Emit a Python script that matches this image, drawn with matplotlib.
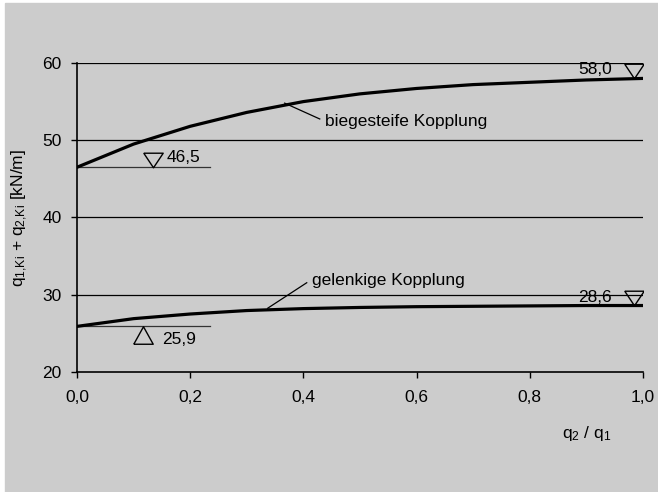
import matplotlib
matplotlib.use("Agg")
import matplotlib.pyplot as plt
import matplotlib.transforms as mtransforms
from matplotlib.patches import Rectangle

plt.rcParams['font.family'] = ['Liberation Sans', 'DejaVu Sans']
plt.rcParams['mathtext.fontset'] = 'custom'
plt.rcParams['mathtext.rm'] = 'Liberation Sans'
plt.rcParams['mathtext.it'] = 'Liberation Sans'

# values
ratio = [0.0, 0.1, 0.2, 0.3, 0.4, 0.5, 0.6, 0.7, 0.8, 0.9, 1.0]
rigid = [46.5, 49.5, 51.8, 53.6, 55.0, 56.0, 56.7, 57.2, 57.5, 57.8, 58.0]
hinged = [25.9, 26.9, 27.5, 27.95, 28.2, 28.35, 28.45, 28.5, 28.55, 28.6, 28.6]
xticks = [0.0, 0.2, 0.4, 0.6, 0.8, 1.0]
xticklabels = ["0,0", "0,2", "0,4", "0,6", "0,8", "1,0"]
yticks = [20, 30, 40, 50, 60]
rigid_start, rigid_end = 46.5, 58.0
hinged_start, hinged_end = 25.9, 28.6

fig = plt.figure(figsize=(6.58, 4.92), dpi=100, facecolor='white')
fig.patches.append(Rectangle((5 / 658, 0), 1, (492 - 3) / 492,
                             transform=fig.transFigure, color='#cccccc', zorder=-1))
ax = fig.add_axes([0.117, 0.244, 0.860, 0.628])
ax.set_facecolor('#cccccc')

for y in yticks[1:]:
    ax.axhline(y, color='black', lw=0.9, zorder=1)

ax.plot(ratio, rigid, color='black', lw=2.3, zorder=3)
ax.plot(ratio, hinged, color='black', lw=2.3, zorder=3)

# reference lines at start values
ax.plot([0, 0.235], [rigid_start, rigid_start], color='#333333', lw=0.9)
ax.plot([0, 0.235], [hinged_start, hinged_start], color='#333333', lw=0.9)

# flat open triangles, apex on the value
ms = 14
tri_down = [(-1, 0.75), (1, 0.75), (0, -0.75), (-1, 0.75)]
tri_up = [(-1, -0.9), (1, -0.9), (0, 0.9), (-1, -0.9)]
up = mtransforms.offset_copy(ax.transData, fig=fig, x=0, y=0.375 * ms, units='points')
down = mtransforms.offset_copy(ax.transData, fig=fig, x=0, y=-0.45 * ms, units='points')
tri = dict(ms=ms, mfc='none', mec='black', mew=1.0, ls='none', zorder=4)
ax.plot([0.134], [rigid_start], marker=tri_down, transform=up, **tri)
ax.plot([0.117], [hinged_start], marker=tri_up, transform=down, **tri)
ax.plot([0.984], [rigid_end], marker=tri_down, transform=up, **tri)
ax.plot([0.984], [hinged_end], marker=tri_down, transform=up, **tri)

fs = 12.5
ax.text(0.159, 47.2, "46,5", fontsize=fs, va='baseline', ha='left')
ax.text(0.150, 23.65, "25,9", fontsize=fs, va='baseline', ha='left')
ax.text(0.945, 58.6, "58,0", fontsize=fs, va='baseline', ha='right')
ax.text(0.945, 29.05, "28,6", fontsize=fs, va='baseline', ha='right')

# leader labels
ax.plot([0.367, 0.429], [54.8, 52.75], color='black', lw=0.9)
ax.text(0.438, 51.9, "biegesteife Kopplung", fontsize=fs, va='baseline', ha='left')
ax.plot([0.337, 0.406], [28.25, 31.55], color='black', lw=0.9)
ax.text(0.415, 31.3, "gelenkige Kopplung", fontsize=fs, va='baseline', ha='left')

ax.set_xlim(0, 1.0)
ax.set_ylim(20, 60)
ax.set_xticks(xticks)
ax.set_xticklabels(xticklabels)
ax.set_yticks(yticks)
ax.tick_params(labelsize=fs, length=4, width=1, direction='out')
ax.tick_params(axis='x', pad=9)
ax.tick_params(axis='y', pad=7)
for side in ('top', 'right'):
    ax.spines[side].set_visible(False)
for side in ('left', 'bottom'):
    ax.spines[side].set_linewidth(1.2)

ax.set_ylabel(r"q$_{1{,}\mathrm{Ki}}$ + q$_{2{,}\mathrm{Ki}}$ [kN/m]", fontsize=fs, labelpad=9)
ax.text(0.945, -0.20, r"q$_2$ / q$_1$", fontsize=fs, transform=ax.transAxes,
        ha='right', va='center')

fig.savefig("out.png", dpi=100, facecolor=fig.get_facecolor())
